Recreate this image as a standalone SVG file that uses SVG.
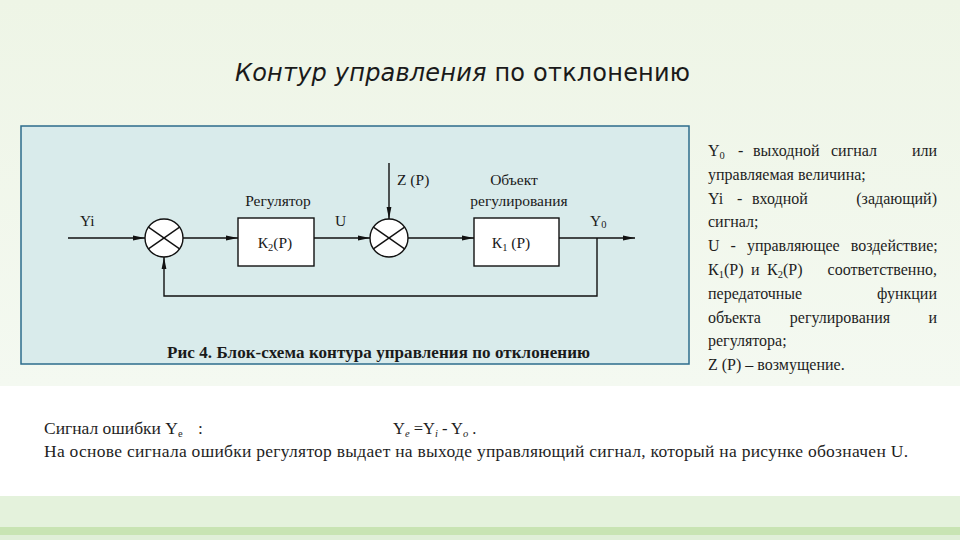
<svg xmlns="http://www.w3.org/2000/svg" width="960" height="540" viewBox="0 0 960 540">
<defs>
<linearGradient id="bg" x1="0" y1="0" x2="0" y2="1">
<stop offset="0" stop-color="#eef5e6"/>
<stop offset="1" stop-color="#f4f9f1"/>
</linearGradient>
<marker id="arr" viewBox="0 0 12 6" refX="12" refY="3" markerWidth="12" markerHeight="6" markerUnits="userSpaceOnUse" orient="auto">
<path d="M0,0.6 L12,3 L0,5.4 Z" fill="#111"/>
</marker>
<style>
.ln{stroke:#111;stroke-width:1.4;fill:none}
.blk{fill:#fff;stroke:#111;stroke-width:1.4}
.sum{fill:#fff;stroke:#111;stroke-width:1.4}
.d{font-family:"Liberation Serif","Times New Roman",serif;font-size:15.5px;fill:#1a1a1a}
.r{font-family:"Liberation Serif","Times New Roman",serif;font-size:16px;fill:#1e1e1e}
.b{font-family:"Liberation Serif","Times New Roman",serif;font-size:17.5px;fill:#1e1e1e}
.sub{font-size:10.5px}
</style>
</defs>
<rect x="0" y="0" width="960" height="386" fill="url(#bg)"/>
<rect x="0" y="386" width="960" height="110" fill="#ffffff"/>
<rect x="0" y="496" width="960" height="31" fill="#e4f2dc"/>
<rect x="0" y="527" width="960" height="8" fill="#c8e4b3"/>
<rect x="0" y="535" width="960" height="5" fill="#e0efd8"/>

<text x="235" y="81" font-family="'DejaVu Sans',sans-serif" font-size="24" fill="#1a1a1a" textLength="455" lengthAdjust="spacing"><tspan font-style="italic">Контур управления</tspan> по отклонению</text>

<rect id="panel" x="21" y="126" width="668" height="238" fill="#d9ebeb" stroke="#2c6c8c" stroke-width="1.5"/>

<g id="connectors">
<line class="ln" x1="68" y1="238" x2="145" y2="238" marker-end="url(#arr)"/>
<line class="ln" x1="183" y1="238" x2="238" y2="238" marker-end="url(#arr)"/>
<line class="ln" x1="314" y1="238" x2="370" y2="238" marker-end="url(#arr)"/>
<line class="ln" x1="389" y1="163" x2="389" y2="219" marker-end="url(#arr)"/>
<line class="ln" x1="408" y1="238" x2="474" y2="238" marker-end="url(#arr)"/>
<line class="ln" x1="559" y1="238" x2="635" y2="238" marker-end="url(#arr)"/>
<polyline class="ln" points="597,238 597,296 164,296 164,257" marker-end="url(#arr)"/>
</g>

<g id="sum1">
<circle class="sum" cx="164" cy="238" r="19"/>
<line class="ln" x1="148.4" y1="227.1" x2="179.6" y2="248.9"/>
<line class="ln" x1="148.4" y1="248.9" x2="179.6" y2="227.1"/>
</g>
<g id="sum2">
<circle class="sum" cx="389" cy="238" r="19"/>
<line class="ln" x1="373.4" y1="227.1" x2="404.6" y2="248.9"/>
<line class="ln" x1="373.4" y1="248.9" x2="404.6" y2="227.1"/>
</g>
<g id="regulator">
<rect class="blk" x="238" y="218" width="76" height="48"/>
<text class="d" x="278" y="206" text-anchor="middle">Регулятор</text>
<text class="d" x="275" y="248" text-anchor="middle" font-size="16">К<tspan class="sub" dy="3">2</tspan><tspan dy="-3">(Р)</tspan></text>
</g>
<g id="object">
<rect class="blk" x="474" y="218" width="85" height="48"/>
<text class="d" x="514" y="185" text-anchor="middle">Объект</text>
<text class="d" x="519" y="206" text-anchor="middle">регулирования</text>
<text class="d" x="511" y="248" text-anchor="middle" font-size="16">К<tspan class="sub" dy="3">1</tspan><tspan dy="-3"> (Р)</tspan></text>
</g>
<g id="labels">
<text class="d" x="80" y="226">Yi</text>
<text class="d" x="335" y="226">U</text>
<text class="d" x="397" y="185">Z (Р)</text>
<text class="d" x="590" y="226">Y<tspan class="sub" dy="2">0</tspan></text>
</g>
<text x="167" y="358" font-family="'Liberation Serif',serif" font-weight="bold" font-size="17" fill="#1a1a1a" textLength="423" lengthAdjust="spacing">Рис 4. Блок-схема контура управления по отклонению</text>

<g id="legend" class="r">
<text x="708" y="156">Y<tspan class="sub" dy="3">0</tspan></text>
<text x="738" y="156">-</text>
<text x="753" y="156">выходной</text>
<text x="831" y="156">сигнал</text>
<text x="937" y="156" text-anchor="end">или</text>
<text x="708" y="180">управляемая величина;</text>
<text x="708" y="204">Yi</text>
<text x="737" y="204">-</text>
<text x="752" y="204">входной</text>
<text x="937" y="204" text-anchor="end">(задающий)</text>
<text x="708" y="227">сигнал;</text>
<text x="708" y="251" word-spacing="7">U - управляющее воздействие;</text>
<text x="708" y="275">К<tspan class="sub" dy="3">1</tspan><tspan dy="-3">(Р)</tspan></text>
<text x="751" y="275">и</text>
<text x="767" y="275">К<tspan class="sub" dy="3">2</tspan><tspan dy="-3">(Р)</tspan></text>
<text x="937" y="275" text-anchor="end">соответственно,</text>
<text x="708" y="299">передаточные</text>
<text x="937" y="299" text-anchor="end">функции</text>
<text x="708" y="323">объекта</text>
<text x="840" y="323" text-anchor="middle">регулирования</text>
<text x="937" y="323" text-anchor="end">и</text>
<text x="708" y="346">регулятора;</text>
<text x="708" y="370">Z (Р) – возмущение.</text>
</g>

<g id="bottom" class="b">
<text x="44" y="434">Сигнал ошибки Y<tspan class="sub" dy="3">е</tspan><tspan dy="-3" x="198">:</tspan></text>
<text x="393" y="434" font-size="16.5">Y<tspan class="sub" font-style="italic" dy="3">e</tspan><tspan dy="-3"> =Y</tspan><tspan class="sub" font-style="italic" dy="3">i</tspan><tspan dy="-3"> - Y</tspan><tspan class="sub" font-style="italic" dy="3">o</tspan><tspan dy="-3"> .</tspan></text>
<text x="44" y="457" textLength="864" lengthAdjust="spacing">На основе сигнала ошибки регулятор выдает на выходе управляющий сигнал, который на рисунке обозначен U.</text>
</g>
</svg>
